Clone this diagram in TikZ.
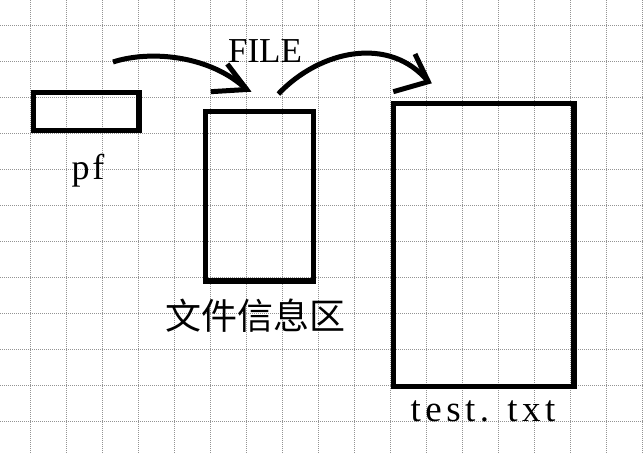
\documentclass[tikz,border=0pt]{standalone}
\usepackage{fontspec}
\setmainfont{Liberation Serif}
\newfontfamily\cjk{Noto Sans CJK SC}
\begin{document}
\begin{tikzpicture}[x=1pt,y=-1pt,
  gridline/.style={draw=gray!85, line width=0.8pt, dash pattern=on 1pt off 1pt},
  box/.style={draw=black, line width=5.5pt, inner sep=0pt, outer sep=0pt},
  arrowline/.style={draw=black, line width=5pt},
  lbl/.style={inner sep=0pt, anchor=base, font=\fontsize{36}{40}\selectfont}]
\useasboundingbox (0,0) rectangle (643,454);
\fill[white] (0,0) rectangle (643,454);
\foreach \x in {30,66,...,642} \draw[gridline] (\x,0) -- (\x,454);
\foreach \y in {25,61,...,421} \draw[gridline] (0,\y) -- (643,\y);
% boxes
\node[box, minimum width=105.5pt, minimum height=38.3pt] (pf) at (86.25,111.6) {};
\node[box, minimum width=107.8pt, minimum height=169.5pt] (info) at (259.4,196.25) {};
\node[box, minimum width=180.3pt, minimum height=283.2pt] (file) at (483.65,103.5+141.6) {};
% labels
\node[lbl, font=\addfontfeature{LetterSpace=8}\fontsize{36}{40}\selectfont] (pflbl) at (88,180) {pf};
\node[lbl, font=\fontsize{35}{40}\selectfont] (filelbl) at (265,62.5) {FILE};
\node[lbl, font=\cjk\fontsize{36}{40}\selectfont] (infolbl) at (255,330) {文件信息区};
\node[lbl, font=\addfontfeature{LetterSpace=12}\fontsize{37}{40}\selectfont] (txtlbl) at (483,421.7) {test. txt};
% arrow 1
\coordinate (a1s) at (113,62);
\coordinate (a1t) at (246.7,89.5);
\coordinate (a1u) at (227.3,64);
\coordinate (a1l) at (210.7,91.7);
\draw[arrowline] (a1s) .. controls (150,50) and (210,55) .. (a1t);
\draw[arrowline] (a1u) -- (a1t) -- (a1l);
% arrow 2
\coordinate (a2s) at (278.3,94);
\coordinate (a2t) at (428.3,81.7);
\coordinate (a2u) at (415,54);
\coordinate (a2l) at (393.3,91.7);
\draw[arrowline] (a2s) .. controls (320,50) and (390,35) .. (a2t);
\draw[arrowline] (a2u) -- (a2t) -- (a2l);
\end{tikzpicture}
\end{document}
